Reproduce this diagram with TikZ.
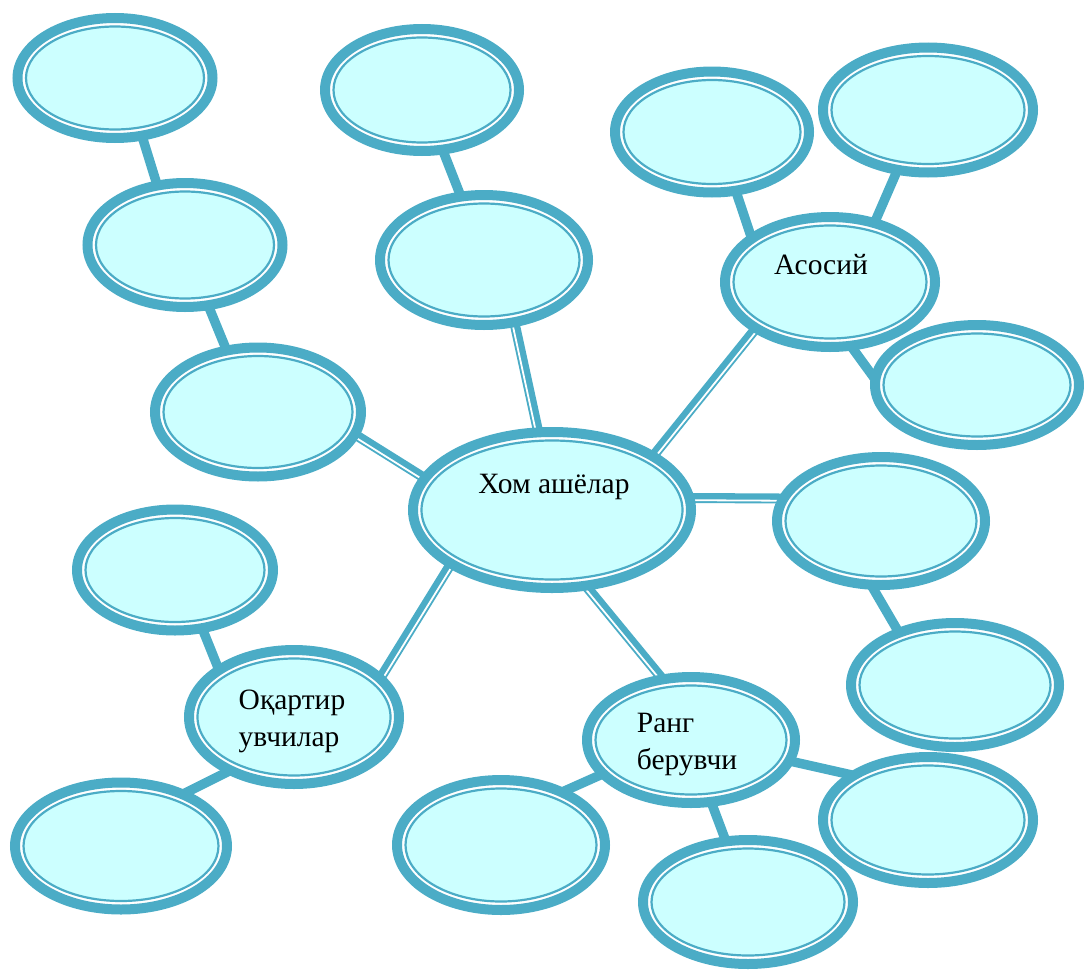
\documentclass[tikz,border=0pt]{standalone}
\usepackage{fontspec}
\setmainfont{Liberation Serif}
\usetikzlibrary{calc,backgrounds,shapes.geometric}
\definecolor{ring}{HTML}{4BACC6}
\definecolor{ice}{HTML}{CCFFFF}
\tikzset{
  bubout/.style={ellipse, draw=ring, fill=white, line width=10pt, inner sep=0pt, outer sep=0pt},
  bubin/.style={ellipse, draw=ring, fill=ice, line width=2.2pt, inner sep=0pt},
  word/.style={font=\fontsize{29.5}{37}\selectfont, inner sep=0pt, align=left},
  leg/.style={draw=ring, line width=9.5pt},
  twin/.style={draw=ring, line width=10pt},
  twingap/.style={draw=white, line width=1.8pt}
}
% name, centre, outer width, outer height
\newcommand{\bubble}[4]{%
  \node[bubout, minimum width=#3-10, minimum height=#4-10] (#1) at (#2) {};
  \node[bubin, minimum width=#3-27, minimum height=#4-27] at (#2) {};
}
% thick line with a thin one on its right side
\newcommand{\twinlink}[2]{%
  \draw[twin] (#1) -- (#2);
  \draw[twingap] ($(#1)!2.2pt!-90:(#2)$) -- ($(#2)!2.2pt!90:(#1)$);
}

\begin{document}
\begin{tikzpicture}[x=1pt, y=-1pt]
  \useasboundingbox (0,0) rectangle (1084,969);

  \bubble{hub}{552,510}{288}{166}
  \bubble{nwa}{115,78}{205}{130}
  \bubble{nwb}{185,245}{205}{134}
  \bubble{nwc}{258,412}{216}{139}
  \bubble{nna}{422,90}{204}{132}
  \bubble{nnb}{484,260}{218}{140}
  \bubble{asosiy}{830,282}{220}{140}
  \bubble{nea}{712,132}{204}{131}
  \bubble{neb}{928,110}{220}{135}
  \bubble{nec}{977,385}{214}{130}
  \bubble{eaa}{881,521}{218}{138}
  \bubble{eab}{955,685}{218}{134}
  \bubble{oqartir}{294,717}{220}{144}
  \bubble{swa}{175,570}{206}{131}
  \bubble{swb}{121,846}{222}{137}
  \bubble{rang}{691,740}{218}{136}
  \bubble{ssa}{501,845}{218}{140}
  \bubble{ssb}{748,902}{220}{134}
  \bubble{ssc}{928,820}{220}{136}

  \node[word] (hubtxt) at (554,487) {Хом ашёлар};
  \node[word] (asosiytxt) at (821,265) {Асосий};
  \node[word] (oqartirtxt) at (292,721) {Оқартир\\увчилар};
  \node[word] (rangtxt) at (687,745) {Ранг\\берувчи};

  \begin{scope}[on background layer]
    \draw[leg] (nwa.295) -- (nwb.115);
    \draw[leg] (nwb.291) -- (nwc.117);
    \twinlink{nwc.347}{hub.166}
    \draw[leg] (nna.289) -- (nnb.110);
    \twinlink{nnb.296}{hub.100}
    \twinlink{hub.28}{asosiy.212}
    \draw[leg] (nea.292) -- (asosiy.151);
    \draw[leg] (asosiy.53) -- (neb.243);
    \draw[leg] (asosiy.288) -- (nec.177);
    \twinlink{hub.5}{eaa.167}
    \draw[leg] (eaa.261) -- (eab.137);
    \twinlink{oqartir.24}{hub.208}
    \draw[leg] (swa.295) -- (oqartir.148);
    \draw[leg] (swb.40) -- (oqartir.220);
    \twinlink{hub.294}{rang.115}
    \draw[leg] (ssa.41) -- (rang.201);
    \draw[leg] (rang.288) -- (ssb.110);
    \draw[leg] (rang.348) -- (ssc.149);
  \end{scope}
\end{tikzpicture}
\end{document}
